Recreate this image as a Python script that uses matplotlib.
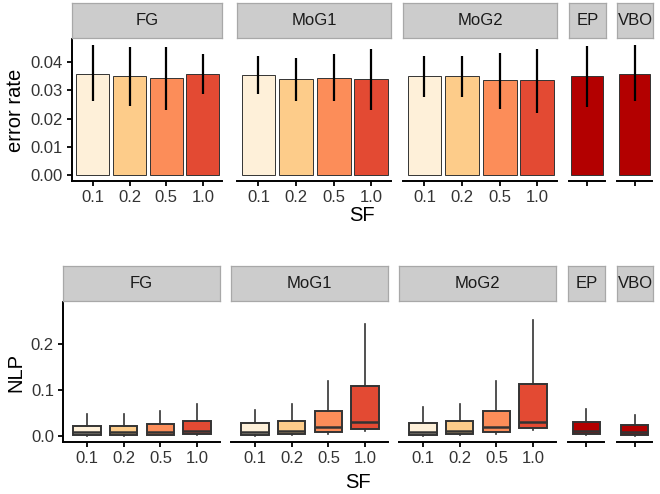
import matplotlib.pyplot as plt

plt.rcParams['font.family'] = ['Liberation Sans', 'DejaVu Sans']

W, H = 660, 494

methods = ['FG', 'MoG1', 'MoG2', 'EP', 'VBO']
sf_labels = ['0.1', '0.2', '0.5', '1.0']
sf_colors = ['#FEF0D9', '#FDCC8A', '#FC8D59', '#E34A33']
single_color = '#B30000'

# error rate: mean and error bar ends
err_fg = [0.0360, 0.0350, 0.0345, 0.0360]
err_fg_lo = [0.0261, 0.0243, 0.0232, 0.0289]
err_fg_hi = [0.0460, 0.0455, 0.0455, 0.0429]
err_mog1 = [0.0354, 0.0339, 0.0343, 0.0339]
err_mog1_lo = [0.0287, 0.0264, 0.0261, 0.0232]
err_mog1_hi = [0.0422, 0.0414, 0.0429, 0.0446]
err_mog2 = [0.0351, 0.0351, 0.0336, 0.0336]
err_mog2_lo = [0.0275, 0.0275, 0.0235, 0.0219]
err_mog2_hi = [0.0424, 0.0424, 0.0432, 0.0449]
err_ep = [0.0351]
err_ep_lo = [0.0240]
err_ep_hi = [0.0458]
err_vbo = [0.0360]
err_vbo_lo = [0.0261]
err_vbo_hi = [0.0461]

# NLP boxplots: [whislo, q1, med, q3, whishi]
nlp_fg = [[0.000, 0.002, 0.007, 0.022, 0.047],
          [0.000, 0.002, 0.007, 0.022, 0.048],
          [0.001, 0.002, 0.008, 0.025, 0.054],
          [0.001, 0.003, 0.010, 0.033, 0.070]]
nlp_mog1 = [[0.000, 0.002, 0.008, 0.028, 0.057],
            [0.001, 0.003, 0.010, 0.033, 0.069],
            [0.003, 0.009, 0.020, 0.055, 0.120],
            [0.011, 0.015, 0.030, 0.109, 0.245]]
nlp_mog2 = [[0.000, 0.002, 0.008, 0.028, 0.063],
            [0.001, 0.003, 0.011, 0.033, 0.070],
            [0.004, 0.009, 0.019, 0.055, 0.120],
            [0.012, 0.016, 0.030, 0.113, 0.254]]
nlp_ep = [[0.001, 0.004, 0.011, 0.029, 0.059]]
nlp_vbo = [[0.000, 0.002, 0.007, 0.0225, 0.046]]

err_sets = [(err_fg, err_fg_lo, err_fg_hi), (err_mog1, err_mog1_lo, err_mog1_hi),
            (err_mog2, err_mog2_lo, err_mog2_hi), (err_ep, err_ep_lo, err_ep_hi),
            (err_vbo, err_vbo_lo, err_vbo_hi)]
nlp_sets = [nlp_fg, nlp_mog1, nlp_mog2, nlp_ep, nlp_vbo]

top_x = [(72, 222), (237, 391), (403, 557), (569, 605), (617, 652)]
bot_x = [(63, 220), (231, 388), (399, 556), (568, 604), (617, 652)]


def px_axes(fig, x0, y0, x1, y1):
    return fig.add_axes([x0 / W, 1 - y1 / H, (x1 - x0) / W, (y1 - y0) / H])


def add_strip(fig, x0, y0, x1, y1, label):
    s = px_axes(fig, x0, y0, x1, y1)
    s.set_facecolor('#CCCCCC')
    s.set_xticks([]); s.set_yticks([])
    for sp in s.spines.values():
        sp.set_color('#A8A8A8'); sp.set_linewidth(0.9)
    s.text(0.5, 0.5, label, ha='center', va='center', fontsize=12, color='#1A1A1A',
           transform=s.transAxes)


def style_axes(ax, first):
    for sp in ['top', 'right']:
        ax.spines[sp].set_visible(False)
    ax.spines['bottom'].set_linewidth(1.4)
    ax.spines['left'].set_linewidth(1.4)
    ax.tick_params(length=3.5, width=1.3, labelsize=12, labelcolor='#333333', pad=3)
    if not first:
        ax.spines['left'].set_visible(False)
        ax.tick_params(axis='y', left=False, labelleft=False)
    ax.set_facecolor('none')


fig = plt.figure(figsize=(W / 100, H / 100), dpi=100)

# top row: error rate bars
for i, (m, (mean, lo, hi)) in enumerate(zip(methods, err_sets)):
    x0, x1 = top_x[i]
    ax = px_axes(fig, x0, 39, x1, 181)
    n = len(mean)
    xs = list(range(1, n + 1))
    cols = sf_colors if n > 1 else [single_color]
    ax.bar(xs, mean, width=0.9, color=cols, edgecolor='#333333', linewidth=0.7)
    yerr = [[m_ - l for m_, l in zip(mean, lo)], [h - m_ for m_, h in zip(mean, hi)]]
    ax.errorbar(xs, mean, yerr=yerr, fmt='none', ecolor='black', elinewidth=1.6, capsize=0)
    if n > 1:
        ax.set_xlim(0.43, n + 0.52)
        ax.set_xticks(xs, sf_labels)
    else:
        ax.set_xlim(0.5, 1.5)
        ax.set_xticks(xs, [''])
    ax.set_ylim(-0.0022, 0.0483)
    ax.set_yticks([0, 0.01, 0.02, 0.03, 0.04], ['0.00', '0.01', '0.02', '0.03', '0.04'])
    style_axes(ax, i == 0)
    if i == 0:
        ax.set_ylabel('error rate', fontsize=14.5, labelpad=4)
    add_strip(fig, x0, 3, x1 + (1 if n == 1 else 0), 38, m)

# bottom row: NLP boxplots
for i, (m, stats) in enumerate(zip(methods, nlp_sets)):
    x0, x1 = bot_x[i]
    ax = px_axes(fig, x0, 302, x1, 442)
    n = len(stats)
    xs = list(range(1, n + 1))
    cols = sf_colors if n > 1 else [single_color]
    bxp_stats = [dict(whislo=s[0], q1=s[1], med=s[2], q3=s[3], whishi=s[4]) for s in stats]
    bp = ax.bxp(bxp_stats, positions=xs, widths=0.75, patch_artist=True, showfliers=False,
                showcaps=False,
                boxprops=dict(edgecolor='#333333', linewidth=1.4),
                medianprops=dict(color='#333333', linewidth=1.8),
                whiskerprops=dict(color='#333333', linewidth=1.2))
    for patch, c in zip(bp['boxes'], cols):
        patch.set_facecolor(c)
    if n > 1:
        ax.set_xlim(0.35, n + 0.62)
        ax.set_xticks(xs, sf_labels)
    else:
        ax.set_xlim(0.5, 1.5)
        ax.set_xticks(xs, [''])
    ax.set_ylim(-0.0138, 0.2926)
    ax.set_yticks([0, 0.1, 0.2], ['0.0', '0.1', '0.2'])
    style_axes(ax, i == 0)
    if i == 0:
        ax.set_ylabel('NLP', fontsize=14.5, labelpad=4)
    add_strip(fig, x0, 266, x1 + (1 if n == 1 else 0), 301, m)

fig.text(362 / W, 1 - 215 / H, 'SF', ha='center', va='center', fontsize=14.5)
fig.text(358 / W, 1 - 482 / H, 'SF', ha='center', va='center', fontsize=14.5)

fig.savefig('out.png', dpi=100)
